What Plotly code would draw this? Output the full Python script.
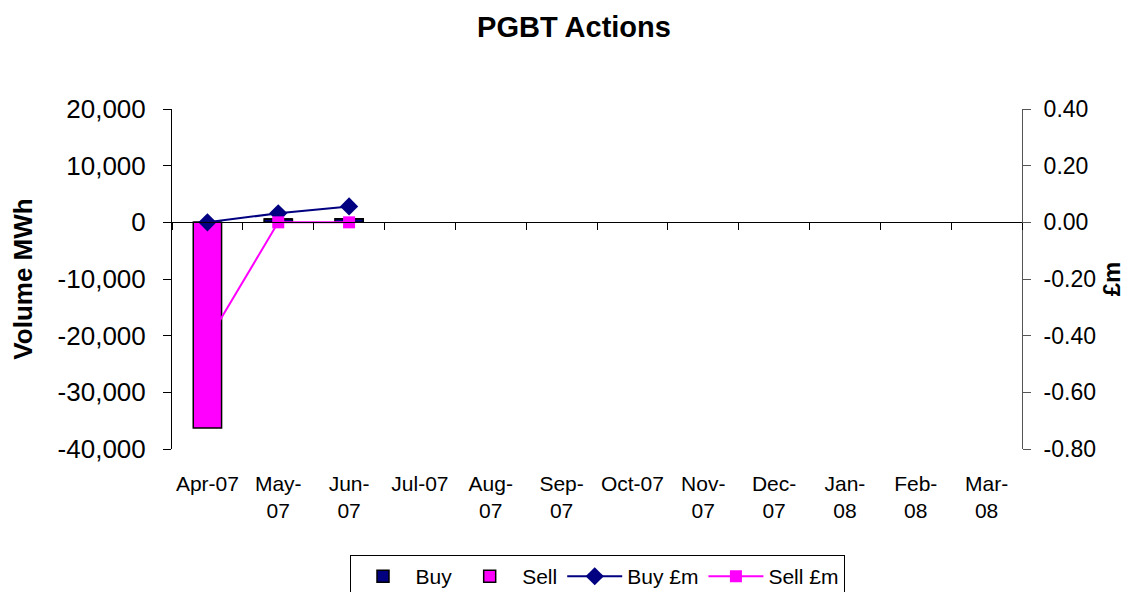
import plotly.graph_objects as go

# ---------------- data ----------------
MONTHS = ["Apr-07", "May-07", "Jun-07", "Jul-07", "Aug-07", "Sep-07",
          "Oct-07", "Nov-07", "Dec-07", "Jan-08", "Feb-08", "Mar-08"]
TICK_LABELS = ["Apr-07", "May-<br>07", "Jun-<br>07", "Jul-07", "Aug-<br>07", "Sep-<br>07",
               "Oct-07", "Nov-<br>07", "Dec-<br>07", "Jan-<br>08", "Feb-<br>08", "Mar-<br>08"]
BUY_MWH = [0, 600, 650, None, None, None, None, None, None, None, None, None]
SELL_MWH = [-36300, 0, 0, None, None, None, None, None, None, None, None, None]
BUY_GBPM = [0.0, 0.032, 0.056, None, None, None, None, None, None, None, None, None]
SELL_GBPM = [-0.42, 0.0, 0.0, None, None, None, None, None, None, None, None, None]

VOL_TICKS = [20000, 10000, 0, -10000, -20000, -30000, -40000]
GBP_TICKS = [0.40, 0.20, 0.00, -0.20, -0.40, -0.60, -0.80]
VOL_RANGE = [-40000, 20000]
GBP_RANGE = [-0.80, 0.40]

FONT = "Liberation Sans, Arial, sans-serif"
NAVY = "#000080"
MAGENTA = "#FF00FF"

fig = go.Figure()

fig.add_trace(go.Bar(
    name="Buy", x=MONTHS, y=BUY_MWH, xaxis="x", yaxis="y",
    marker=dict(color=NAVY, line=dict(color="black", width=1.5)), width=0.4,
))
fig.add_trace(go.Bar(
    name="Sell", x=MONTHS, y=SELL_MWH, xaxis="x", yaxis="y",
    marker=dict(color=MAGENTA, line=dict(color="black", width=1.5)), width=0.4,
))
fig.add_trace(go.Scatter(
    name="Buy £m", x=MONTHS, y=BUY_GBPM, xaxis="x2", yaxis="y2",
    mode="lines+markers", line=dict(color=NAVY, width=2),
    marker=dict(symbol="diamond", size=14, color=NAVY),
))
fig.add_trace(go.Scatter(
    name="Sell £m", x=MONTHS, y=SELL_GBPM, xaxis="x2", yaxis="y2",
    mode="lines+markers", line=dict(color=MAGENTA, width=2),
    marker=dict(symbol="square", size=12, color=MAGENTA),
))

zero_pos = -VOL_RANGE[0] / (VOL_RANGE[1] - VOL_RANGE[0])

# the page body adds an 8px offset, so the figure is 8px smaller each way
fig.update_layout(
    width=1132, height=584,
    margin=dict(l=164, r=118, t=101, b=143, autoexpand=False),
    paper_bgcolor="white", plot_bgcolor="white",
    font=dict(family=FONT, color="black", size=21),
    barmode="relative",
    showlegend=True,
    title=dict(text="<b>PGBT Actions</b>", x=0.5, xanchor="center",
               y=1 - 19 / 584, yanchor="middle",
               font=dict(family=FONT, size=29, color="black")),
    xaxis=dict(
        type="category", categoryorder="array", categoryarray=MONTHS,
        range=[-0.5, len(MONTHS) - 0.5], dtick=1,
        anchor="free", position=zero_pos, automargin=False,
        showline=True, linecolor="black", linewidth=1,
        ticks="outside", tickson="boundaries", ticklen=7, tickcolor="black",
        showticklabels=False, showgrid=False, zeroline=False,
    ),
    xaxis2=dict(
        type="category", categoryorder="array", categoryarray=MONTHS,
        range=[-0.5, len(MONTHS) - 0.5],
        overlaying="x", anchor="y2", side="bottom", automargin=False,
        tickmode="array", tickvals=MONTHS, ticktext=TICK_LABELS,
        ticks="", showline=False, showgrid=False, zeroline=False,
        tickfont=dict(family=FONT, size=21, color="black"),
        ticklabelstandoff=20,
    ),
    yaxis=dict(
        range=VOL_RANGE, automargin=False,
        tickmode="array", tickvals=VOL_TICKS,
        ticktext=[f"{v:,}" for v in VOL_TICKS],
        showline=True, linecolor="black", linewidth=1,
        ticks="outside", ticklen=8, tickcolor="black",
        showgrid=False, zeroline=False,
        tickfont=dict(family=FONT, size=26, color="black"),
        ticklabelstandoff=12,
        title=dict(text="<b>Volume MWh</b>", standoff=18,
                   font=dict(family=FONT, size=26, color="black")),
    ),
    yaxis2=dict(
        range=GBP_RANGE, automargin=False,
        tickmode="array", tickvals=GBP_TICKS,
        ticktext=[f"{v:.2f}" for v in GBP_TICKS],
        overlaying="y", side="right", anchor="x2",
        showline=True, linecolor="#555555", linewidth=1,
        ticks="outside", ticklen=8, tickcolor="#555555",
        showgrid=False, zeroline=False,
        tickfont=dict(family=FONT, size=23, color="black"),
        ticklabelstandoff=8,
        title=dict(text="<b>£m</b>", standoff=8,
                   font=dict(family=FONT, size=24, color="black")),
    ),
    legend=dict(
        orientation="h", x=0.5, xanchor="center", y=-0.312, yanchor="top",
        bordercolor="black", borderwidth=1, bgcolor="white",
        font=dict(family=FONT, size=21, color="black"),
        traceorder="normal", itemwidth=55,
    ),
)

fig.write_html("out.html")
